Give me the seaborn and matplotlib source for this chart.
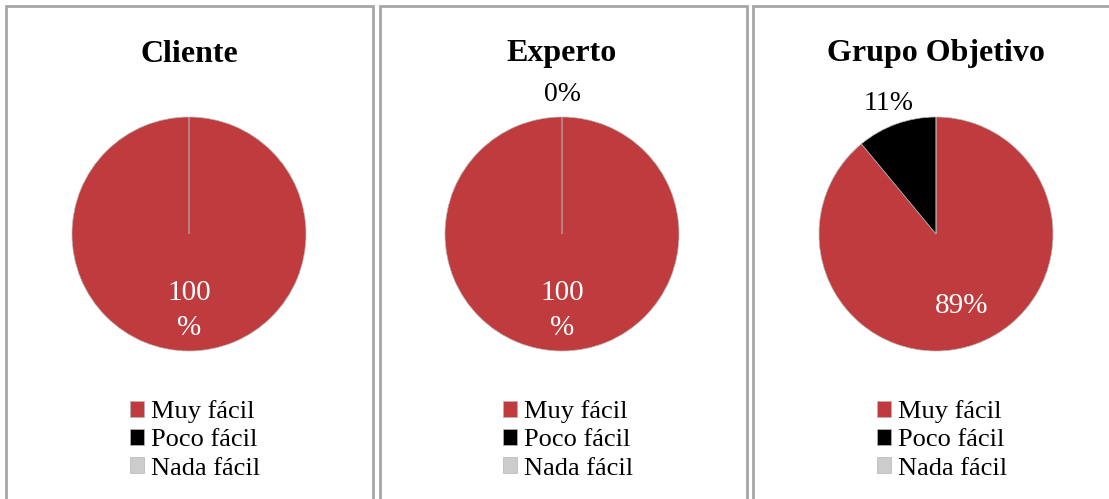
import matplotlib
matplotlib.use("Agg")
import matplotlib.pyplot as plt
import seaborn as sns
from matplotlib.patches import Rectangle

# datos
categorias = ["Muy fácil", "Poco fácil", "Nada fácil"]
paneles = ["Cliente", "Experto", "Grupo Objetivo"]
valores_cliente = [100, 0, 0]
valores_experto = [100, 0, 0]
valores_grupo = [89, 11, 0]
# etiquetas dentro / fuera del pastel
internas_cliente = ["100\n%", "", ""]
externas_cliente = ["", "", ""]
internas_experto = ["100\n%", "", ""]
externas_experto = ["", "0%", ""]
internas_grupo = ["89%", "", ""]
externas_grupo = ["", "11%", ""]

colores = ["#BF3B3D", "#000000", "#CCCCCC"]

sns.set_theme(style="white")
plt.rcParams["font.family"] = ["Liberation Serif", "DejaVu Serif"]
plt.rcParams["text.color"] = "black"

W, H = 1109, 499
fig = plt.figure(figsize=(W / 100, H / 100), dpi=100)

datos = [
    (valores_cliente, internas_cliente, externas_cliente),
    (valores_experto, internas_experto, externas_experto),
    (valores_grupo, internas_grupo, externas_grupo),
]
centros_x = [189, 562, 936]
cajas = [(6, 373), (380, 747), (753, 1115)]
cy, r = 234, 117

for i, (nombre, (vals, internas, externas)) in enumerate(zip(paneles, datos)):
    x0, x1 = cajas[i]
    fig.patches.append(Rectangle((x0 / W, -0.05), (x1 - x0) / W, 1 - 6 / H + 0.05,
                                 transform=fig.transFigure, fill=False,
                                 edgecolor="#A6A6A6", linewidth=2))
    cx = centros_x[i]
    lado = r * 1.3
    ax = fig.add_axes([(cx - lado) / W, 1 - (cy + lado) / H, 2 * lado / W, 2 * lado / H])
    wedges, textos, autotextos = ax.pie(
        vals, colors=colores, startangle=90, counterclock=False,
        labels=externas, labeldistance=1.19, autopct=lambda p: "", pctdistance=0.65,
        wedgeprops=dict(edgecolor="#B5B5B5", linewidth=0.5),
        textprops=dict(fontsize=20, color="black"))
    for t in textos:
        t.set_ha("center")
        t.set_va("center")
    for t, txt in zip(autotextos, internas):
        t.set_text(txt)
        t.set_color("white")
        t.set_fontsize(21)
        t.set_linespacing(1.45)
    ax.set_xlim(-1.3, 1.3)
    ax.set_ylim(-1.3, 1.3)
    ax.set_aspect("equal")
    ax.axis("off")

    fig.text(cx / W, 1 - 54 / H, nombre, ha="center", va="center",
             fontsize=23, fontweight="bold", color="black")
    fig.legend(wedges, categorias, loc="center", bbox_to_anchor=((cx + 6) / W, 1 - 440 / H),
               frameon=False, fontsize=19, handlelength=0.55, handleheight=0.55,
               handletextpad=0.25, labelspacing=0.22, borderpad=0, labelcolor="black")

fig.savefig("out.png", dpi=100)
